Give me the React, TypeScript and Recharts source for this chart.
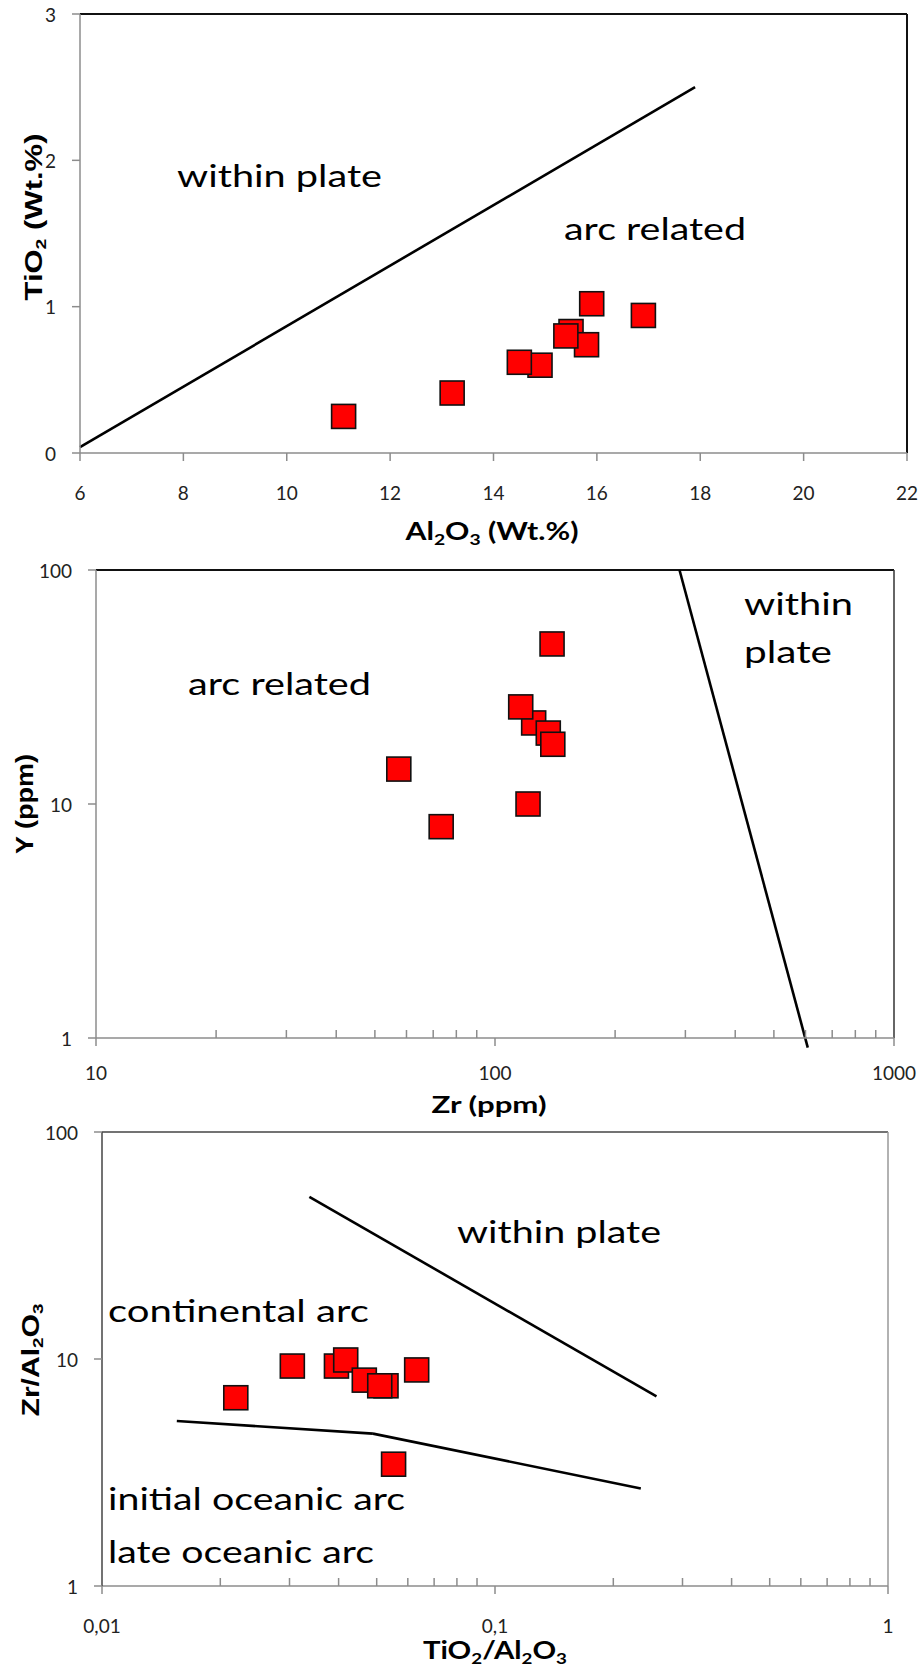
import { ScatterChart, Scatter, XAxis, YAxis, ReferenceLine } from "recharts";

// ---- chart 1: TiO2 vs Al2O3 ----
const al2o3 = [11.1, 13.2, 14.9, 14.5, 15.5, 15.8, 15.4, 15.9, 16.9];
const tio2 = [0.25, 0.41, 0.6, 0.62, 0.83, 0.74, 0.8, 1.02, 0.94];
const xTicks1 = [6, 8, 10, 12, 14, 16, 18, 20, 22];
const yTicks1 = [0, 1, 2, 3];
const boundary1 = [
    { x: 6, y: 0.04 },
    { x: 17.9, y: 2.5 },
];

// ---- chart 2: Y vs Zr (log-log) ----
const zr = [125, 116, 136, 139.6, 139, 57.4, 121, 73.3];
const yppm = [22.2, 26, 20.1, 18, 48.3, 14.1, 10, 8];
const xMajor2 = [10, 100, 1000];
const xMinor2 = [20, 30, 40, 50, 60, 70, 80, 90, 200, 300, 400, 500, 600, 700, 800, 900];
const yTicks2 = [1, 10, 100];
const boundary2 = [
    { x: 290, y: 100 },
    { x: 608, y: 0.91 },
];

// ---- chart 3: Zr/Al2O3 vs TiO2/Al2O3 (log-log) ----
const tiAl = [0.0219, 0.0305, 0.0395, 0.0417, 0.0528, 0.0465, 0.0509, 0.0632, 0.0552];
const zrAl = [6.75, 9.31, 9.31, 9.9, 7.62, 8.07, 7.62, 8.95, 3.44];
const xMajor3 = [0.01, 0.1, 1];
const xMinor3 = [0.02, 0.03, 0.04, 0.05, 0.06, 0.07, 0.08, 0.09, 0.2, 0.3, 0.4, 0.5, 0.6, 0.7, 0.8, 0.9];
const yTicks3 = [1, 10, 100];
const upperLine3 = [
    { x: 0.0337, y: 51.8 },
    { x: 0.2576, y: 6.84 },
];
const lowerLine3 = [
    { x: 0.0155, y: 5.33 },
    { x: 0.0489, y: 4.69 },
    { x: 0.235, y: 2.69 },
];

const pts1 = al2o3.map((x, i) => ({ x, y: tio2[i] }));
const pts2 = zr.map((x, i) => ({ x, y: yppm[i] }));
const pts3 = tiAl.map((x, i) => ({ x, y: zrAl[i] }));

const AXIS = "#8c8c8c";
const TICK_FONT = "Lato, 'Open Sans', sans-serif";

const Square = (props: any) => {
    const { cx, cy } = props;
    if (cx == null || cy == null) return <g />;
    return <rect x={cx - 12} y={cy - 12} width={24} height={24} fill="#ff0000" stroke="#111" strokeWidth={1.6} />;
};

const xTick = (majors: number[], fmt: (v: number) => string, gap = 39) => (props: any) => {
    const { x, y, payload } = props;
    const v = payload.value;
    const isMajor = majors.includes(v);
    return (
        <g>
            <line x1={x} x2={x} y1={y} y2={isMajor ? y + 8 : y - 8} stroke={AXIS} strokeWidth={1.5} />
            {isMajor && (
                <text x={x} y={y + gap} textAnchor="middle" dominantBaseline="central" fontFamily={TICK_FONT} fontSize={19} fill="#222">
                    {fmt(v)}
                </text>
            )}
        </g>
    );
};

const yTick = (props: any) => {
    const { x, y, payload } = props;
    return (
        <g>
            <line x1={x - 8} x2={x} y1={y} y2={y} stroke={AXIS} strokeWidth={1.5} />
            <text x={x - 24} y={y} textAnchor="end" dominantBaseline="central" fontFamily={TICK_FONT} fontSize={19} fill="#222">
                {payload.value}
            </text>
        </g>
    );
};

const segs = (pts: { x: number; y: number }[]) =>
    pts.slice(1).map((p, i) => (
        <ReferenceLine
            key={i}
            segment={[pts[i], p]}
            stroke="#000"
            strokeWidth={2.6}
            ifOverflow="visible"
        />
    ));

const NOTE = "Lato, 'Open Sans', sans-serif";

function Note({ x, y, w, children }: { x: number; y: number; w: number; children: string }) {
    return (
        <text x={x} y={y} textLength={w} lengthAdjust="spacingAndGlyphs" fontFamily={NOTE} fontSize={30} fill="#000">
            {children}
        </text>
    );
}

export default function App() {
    return (
        <div style={{ position: "absolute", left: 0, top: 0, width: 921, height: 1672, background: "#fff" }}>
            <div style={{ position: "absolute", left: 0, top: 0 }}>
                <ScatterChart width={921} height={560} margin={{ top: 14, right: 14, bottom: 57, left: 20 }}>
                    <XAxis
                        type="number"
                        dataKey="x"
                        domain={[6, 22]}
                        ticks={xTicks1}
                        interval={0}
                        height={50}
                        tickSize={0}
                        tickMargin={0}
                        tickLine={false}
                        tick={xTick(xTicks1, (v) => String(v))}
                        axisLine={{ stroke: AXIS, strokeWidth: 1.5 }}
                    />
                    <YAxis
                        type="number"
                        dataKey="y"
                        domain={[0, 3]}
                        ticks={yTicks1}
                        interval={0}
                        width={60}
                        tickSize={0}
                        tickMargin={0}
                        tickLine={false}
                        tick={yTick}
                        axisLine={{ stroke: AXIS, strokeWidth: 1.5 }}
                    />
                    <ReferenceLine y={3} stroke="#111" strokeWidth={2} />
                    <ReferenceLine x={22} stroke="#111" strokeWidth={2} />
                    {segs(boundary1)}
                    <Scatter data={pts1} shape={Square} isAnimationActive={false} />
                </ScatterChart>
            </div>

            <div style={{ position: "absolute", left: 0, top: 560 }}>
                <ScatterChart width={921} height={560} margin={{ top: 10, right: 27, bottom: 32, left: 36 }}>
                    <XAxis
                        type="number"
                        dataKey="x"
                        scale="log"
                        domain={[10, 1000]}
                        allowDataOverflow
                        ticks={[...xMajor2, ...xMinor2]}
                        interval={0}
                        height={50}
                        tickSize={0}
                        tickMargin={0}
                        tickLine={false}
                        tick={xTick(xMajor2, (v) => String(v), 34)}
                        axisLine={{ stroke: AXIS, strokeWidth: 1.5 }}
                    />
                    <YAxis
                        type="number"
                        dataKey="y"
                        scale="log"
                        domain={[1, 100]}
                        allowDataOverflow
                        ticks={yTicks2}
                        interval={0}
                        width={60}
                        tickSize={0}
                        tickMargin={0}
                        tickLine={false}
                        tick={yTick}
                        axisLine={{ stroke: AXIS, strokeWidth: 1.5 }}
                    />
                    <ReferenceLine y={100} stroke="#111" strokeWidth={2} />
                    <ReferenceLine x={1000} stroke="#333" strokeWidth={1.5} />
                    {segs(boundary2)}
                    <Scatter data={pts2} shape={Square} isAnimationActive={false} />
                </ScatterChart>
            </div>

            <div style={{ position: "absolute", left: 0, top: 1120 }}>
                <ScatterChart width={921} height={552} margin={{ top: 12, right: 33, bottom: 36, left: 42 }}>
                    <XAxis
                        type="number"
                        dataKey="x"
                        scale="log"
                        domain={[0.01, 1]}
                        allowDataOverflow
                        ticks={[...xMajor3, ...xMinor3]}
                        interval={0}
                        height={50}
                        tickSize={0}
                        tickMargin={0}
                        tickLine={false}
                        tick={xTick(xMajor3, (v) => String(v).replace(".", ","))}
                        axisLine={{ stroke: AXIS, strokeWidth: 1.5 }}
                    />
                    <YAxis
                        type="number"
                        dataKey="y"
                        scale="log"
                        domain={[1, 100]}
                        allowDataOverflow
                        ticks={yTicks3}
                        interval={0}
                        width={60}
                        tickSize={0}
                        tickMargin={0}
                        tickLine={false}
                        tick={yTick}
                        axisLine={{ stroke: "#444", strokeWidth: 1.5 }}
                    />
                    <ReferenceLine y={100} stroke="#444" strokeWidth={1.5} />
                    <ReferenceLine x={1} stroke="#999" strokeWidth={1.5} />
                    {segs(upperLine3)}
                    {segs(lowerLine3)}
                    <Scatter data={pts3} shape={Square} isAnimationActive={false} />
                </ScatterChart>
            </div>

            <svg width={921} height={1672} style={{ position: "absolute", left: 0, top: 0, pointerEvents: "none" }}>
                {/* chart 1 notes and titles */}
                <Note x={177} y={187} w={205}>within plate</Note>
                <Note x={564} y={240} w={182}>arc related</Note>
                <text x={492} y={540} textAnchor="middle" textLength={173} lengthAdjust="spacingAndGlyphs" fontFamily={NOTE} fontWeight={700} fontSize={25}>
                    Al<tspan fontSize={16} dy={5}>2</tspan>
                    <tspan dy={-5}>O</tspan>
                    <tspan fontSize={16} dy={5}>3</tspan>
                    <tspan dy={-5}> (Wt.%)</tspan>
                </text>
                <text x={42} y={217} transform="rotate(-90 42 217)" textAnchor="middle" textLength={167} lengthAdjust="spacingAndGlyphs" fontFamily="'Liberation Sans', Arial, sans-serif" fontWeight={700} fontSize={24}>
                    TiO<tspan fontSize={15} dy={4}>2</tspan>
                    <tspan dy={-4}> (Wt.%)</tspan>
                </text>

                {/* chart 2 */}
                <Note x={188} y={695} w={183}>arc related</Note>
                <Note x={744} y={615} w={109}>within</Note>
                <Note x={744} y={663} w={88}>plate</Note>
                <text x={489} y={1113} textAnchor="middle" textLength={115} lengthAdjust="spacingAndGlyphs" fontFamily={NOTE} fontWeight={700} fontSize={23}>
                    Zr (ppm)
                </text>
                <text x={33} y={804} transform="rotate(-90 33 804)" textAnchor="middle" textLength={100} lengthAdjust="spacingAndGlyphs" fontFamily="'Liberation Sans', Arial, sans-serif" fontWeight={700} fontSize={24}>
                    Y (ppm)
                </text>

                {/* chart 3 */}
                <Note x={457} y={1243} w={204}>within plate</Note>
                <Note x={108} y={1322} w={261}>continental arc</Note>
                <Note x={108} y={1510} w={297}>initial oceanic arc</Note>
                <Note x={108} y={1563} w={266}>late oceanic arc</Note>
                <text x={495} y={1659} textAnchor="middle" textLength={144} lengthAdjust="spacingAndGlyphs" fontFamily={NOTE} fontWeight={700} fontSize={25}>
                    TiO<tspan fontSize={16} dy={5}>2</tspan>
                    <tspan dy={-5}>/Al</tspan>
                    <tspan fontSize={16} dy={5}>2</tspan>
                    <tspan dy={-5}>O</tspan>
                    <tspan fontSize={16} dy={5}>3</tspan>
                </text>
                <text x={39} y={1360} transform="rotate(-90 39 1360)" textAnchor="middle" textLength={113} lengthAdjust="spacingAndGlyphs" fontFamily="'Liberation Sans', Arial, sans-serif" fontWeight={700} fontSize={24}>
                    Zr/Al<tspan fontSize={15} dy={4}>2</tspan>
                    <tspan dy={-4}>O</tspan>
                    <tspan fontSize={15} dy={4}>3</tspan>
                </text>
            </svg>
        </div>
    );
}
